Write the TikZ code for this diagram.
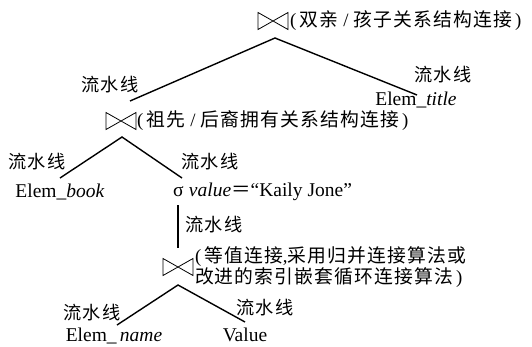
\documentclass[tikz,border=0pt]{standalone}
\usepackage{fontspec}
\setmainfont{Liberation Serif}
\newfontfamily\cjk{Noto Sans CJK SC}[LetterSpace=6]
\begin{document}
\begin{tikzpicture}[x=1pt,y=-1pt,
  every node/.style={inner sep=0pt,outer sep=0pt,font=\fontsize{19.5}{22}\selectfont},
  bowtie/.style={minimum width=30pt,minimum height=17pt},
  cn/.style={font=\fontsize{18.8}{20}\selectfont\cjk},
  lab/.style={font=\fontsize{18.2}{20}\selectfont\cjk},
  conn/.style={line width=1.4pt}]
\useasboundingbox (0,0) rectangle (532,346);
% bowtie joins
\node[bowtie] (j1) at (273,21) {};
\node[bowtie] (j2) at (121,121) {};
\node[bowtie] (j3) at (178,267) {};
\foreach \j in {j1,j2,j3}{
  \draw[line width=0.8pt,line join=miter] (\j.north west)--(\j.south east)--(\j.north east)--(\j.south west)--cycle;
}
% join descriptions
\node[cn,anchor=west] (t1) at (290,21) {{\rmfamily(\,}双亲{\rmfamily\;/\;}孩子关系结构连接{\rmfamily\,)}};
\node[cn,anchor=west] (t2) at (137,121) {{\rmfamily(\,}祖先{\rmfamily\;/\;}后裔拥有关系结构连接{\rmfamily\,)}};
\node[cn,anchor=west,align=left,font=\fontsize{18.8}{19}\selectfont\cjk] (t3) at (195,267) {{\rmfamily(\,}等值连接{\rmfamily,}采用归并连接算法或\\改进的索引嵌套循环连接算法{\rmfamily\,)}};
% leaves
\node (title) at (416,100) {Elem\_\textit{title}};
\node (book) at (60,192) {Elem\_\textit{book}};
\node[anchor=west] (sel) at (173,192) {σ\;\textit{value}{\cjk ＝}“Kaily Jone”};
\node (name) at (114,336) {Elem\_\,\textit{name}};
\node (val) at (245,335) {Value};
% pipeline labels
\node[lab] (l1) at (110,85) {流水线};
\node[lab] (l2) at (443,75) {流水线};
\node[lab] (l3) at (37,162) {流水线};
\node[lab] (l4) at (210,162) {流水线};
\node[lab] (l5) at (214,225) {流水线};
\node[lab] (l6) at (92,313) {流水线};
\node[lab] (l7) at (265,308) {流水线};
% connector end points
\coordinate (a1) at (275,38);
\coordinate (e1) at (130,101);
\coordinate (e2) at (417,95);
\coordinate (a2) at (122,137);
\coordinate (e3) at (60,178);
\coordinate (e4) at (182,178);
\coordinate (v1) at (178,205);
\coordinate (v2) at (178,248);
\coordinate (a3) at (178,285);
\coordinate (e5) at (117,325);
\coordinate (e6) at (245,322);
\draw[conn] (e1)--(a1)--(e2);
\draw[conn] (e3)--(a2)--(e4);
\draw[conn] (v1)--(v2);
\draw[conn] (e5)--(a3)--(e6);
\end{tikzpicture}
\end{document}
